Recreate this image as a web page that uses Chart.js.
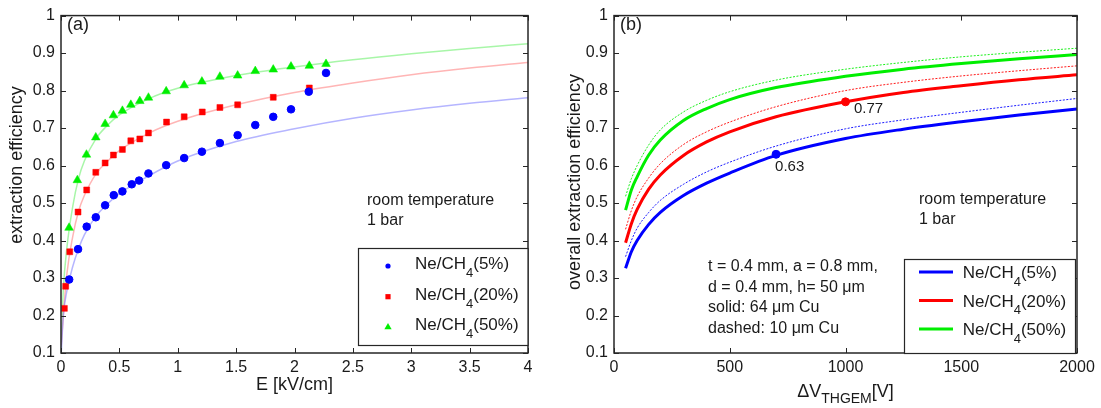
<!DOCTYPE html>
<html><head><meta charset="utf-8">
<script src="https://cdn.jsdelivr.net/npm/chart.js@4.4.0/dist/chart.umd.min.js"></script>
<style>
html,body{margin:0;padding:0;background:#fff;}
#wrap{position:relative;width:1101px;height:408px;overflow:hidden;background:#fff;}
canvas{position:absolute;top:0;}
</style></head><body>
<div id="wrap"><canvas id="ca" width="550" height="408" style="left:0"></canvas><canvas id="cb" width="551" height="408" style="left:550px"></canvas></div>
<script>
// ---------- data ----------
const yTicks = [0.1,0.2,0.3,0.4,0.5,0.6,0.7,0.8,0.9,1];
const xTicksA = [0,0.5,1,1.5,2,2.5,3,3.5,4];
const xTicksB = [0,500,1000,1500,2000];
const seriesNames = ['5%','20%','50%'];

// panel (a): measured points
const blueE   = [0.07,0.146,0.22,0.298,0.378,0.452,0.526,0.606,0.669,0.749,0.901,1.055,1.207,1.361,1.513,1.664,1.818,1.970,2.122,2.27];
const blueEff = [0.296,0.377,0.437,0.462,0.494,0.521,0.531,0.550,0.560,0.579,0.601,0.620,0.637,0.660,0.681,0.708,0.730,0.750,0.797,0.847];
const redE    = [0.029,0.04,0.075,0.146,0.22,0.298,0.378,0.449,0.526,0.598,0.675,0.749,0.904,1.055,1.21,1.361,1.513,1.818,2.127];
const redEff  = [0.219,0.278,0.370,0.476,0.535,0.582,0.607,0.628,0.643,0.666,0.671,0.687,0.716,0.730,0.743,0.755,0.762,0.782,0.807];
const greenE  = [0.069,0.14,0.218,0.298,0.378,0.449,0.526,0.598,0.675,0.749,0.901,1.055,1.207,1.361,1.513,1.664,1.818,1.970,2.127,2.27];
const greenEff= [0.434,0.561,0.629,0.675,0.711,0.734,0.746,0.762,0.772,0.781,0.798,0.814,0.824,0.837,0.840,0.852,0.856,0.864,0.866,0.871];

// panel (a): fit curves
const fitE     = [0.002,0.02,0.05,0.1,0.15,0.2,0.3,0.4,0.5,0.75,1,1.5,2,2.5,3,3.5,4];
const fitBlue  = [0.10,0.20,0.265,0.33,0.378,0.415,0.465,0.498,0.525,0.572,0.612,0.664,0.698,0.726,0.748,0.766,0.781];
const fitRed   = [0.12,0.20,0.31,0.41,0.478,0.52,0.578,0.612,0.64,0.686,0.718,0.762,0.795,0.82,0.842,0.86,0.875];
const fitGreen = [0.13,0.27,0.38,0.49,0.565,0.612,0.672,0.708,0.735,0.778,0.806,0.84,0.863,0.882,0.898,0.912,0.925];

// panel (b): curves vs THGEM voltage
const dV      = [50,75,100,150,200,300,400,500,700,1000,1250,1500,1750,2000];
const blue64  = [0.326,0.37,0.40,0.443,0.475,0.52,0.553,0.58,0.627,0.672,0.697,0.717,0.735,0.751];
const blue10  = [0.357,0.40,0.433,0.475,0.507,0.55,0.583,0.609,0.652,0.698,0.722,0.742,0.761,0.779];
const red64   = [0.394,0.445,0.483,0.537,0.575,0.627,0.663,0.69,0.73,0.77,0.795,0.813,0.829,0.842];
const red10   = [0.43,0.48,0.517,0.567,0.605,0.656,0.69,0.716,0.757,0.80,0.822,0.839,0.853,0.866];
const green64 = [0.481,0.535,0.57,0.628,0.668,0.72,0.752,0.776,0.808,0.838,0.857,0.872,0.885,0.896];
const green10 = [0.518,0.565,0.60,0.655,0.695,0.743,0.774,0.797,0.828,0.857,0.875,0.89,0.902,0.913];
const markV   = [700,1000];
const markEff = [0.63,0.77];
const markLbl = ['0.63','0.77'];

// ---------- style ----------
const FONT = "'Liberation Sans', Arial, Helvetica, sans-serif";
const AXC = '#262626', TXT = '#1a1a1a';
const BLUE = '#0000ff', RED = '#ff0000', GREEN = '#00ee00';
const colors = [BLUE, RED, GREEN];

const pts = (xs, ys) => xs.map((x, i) => ({x, y: ys[i]}));

function drawRich(ctx, x, y, parts, align) {
  let w = 0;
  for (const p of parts) { ctx.font = p[1] + 'px ' + FONT; w += ctx.measureText(p[0]).width; }
  let cx = align === 'center' ? x - w / 2 : x;
  ctx.textAlign = 'left'; ctx.textBaseline = 'alphabetic';
  for (const p of parts) {
    ctx.font = p[1] + 'px ' + FONT;
    ctx.fillText(p[0], cx, y + (p[2] || 0));
    cx += ctx.measureText(p[0]).width;
  }
}
function text(ctx, s, x, y, size, align) {
  ctx.font = size + 'px ' + FONT; ctx.textAlign = align || 'left'; ctx.textBaseline = 'middle';
  ctx.fillText(s, x, y);
}
function marker(ctx, style, x, y, r, color) {
  ctx.fillStyle = color; ctx.beginPath();
  if (style === 'circle') ctx.arc(x, y, r, 0, Math.PI * 2);
  else if (style === 'rect') ctx.rect(x - r, y - r, 2 * r, 2 * r);
  else { ctx.moveTo(x, y - r * 1.15); ctx.lineTo(x + r * 1.1, y + r * 0.75); ctx.lineTo(x - r * 1.1, y + r * 0.75); ctx.closePath(); }
  ctx.fill();
}
function legendLabel(i) { return [['Ne/CH', 17, 0], ['4', 13, 7.5], ['(' + seriesNames[i] + ')', 17, 0]]; }

function framePlugin(xTicks) {
  return {
    id: 'frame',
    afterDatasetsDraw(chart) {
      const {ctx, chartArea: a, scales: {x, y}} = chart;
      ctx.save();
      ctx.strokeStyle = AXC; ctx.lineWidth = 1;
      ctx.beginPath();
      for (const v of xTicks) {
        const p = Math.round(x.getPixelForValue(v)) + 0.5;
        ctx.moveTo(p, a.bottom); ctx.lineTo(p, a.bottom - 5);
        ctx.moveTo(p, a.top); ctx.lineTo(p, a.top + 5);
      }
      for (const v of yTicks) {
        const p = Math.round(y.getPixelForValue(v)) + 0.5;
        ctx.moveTo(a.left, p); ctx.lineTo(a.left + 5, p);
        ctx.moveTo(a.right, p); ctx.lineTo(a.right - 5, p);
      }
      ctx.stroke();
      ctx.lineWidth = 1.5;
      ctx.strokeRect(a.left, a.top, a.right - a.left, a.bottom - a.top);
      ctx.restore();
    }
  };
}

function scales(xTicks, xmin, xmax, yW) {
  const tickFont = {family: FONT, size: 16};
  return {
    x: {type: 'linear', min: xmin, max: xmax,
      afterBuildTicks: s => { s.ticks = xTicks.map(v => ({value: v})); },
      afterFit: s => { s.height = 55; },
      grid: {display: false, drawTicks: false}, border: {display: false},
      ticks: {padding: 5, color: TXT, font: tickFont, maxRotation: 0, autoSkip: false, callback: v => String(v)}},
    y: {type: 'linear', min: 0.1, max: 1,
      afterBuildTicks: s => { s.ticks = yTicks.map(v => ({value: v})); },
      afterFit: s => { s.width = yW; },
      grid: {display: false, drawTicks: false}, border: {display: false},
      ticks: {padding: 6, color: TXT, font: tickFont, autoSkip: false, callback: v => String(v)}}
  };
}

// ---------- panel (a) ----------
const decorA = {
  id: 'decorA',
  afterDraw(chart) {
    const {ctx, chartArea: a} = chart;
    ctx.save(); ctx.fillStyle = TXT;
    text(ctx, '(a)', a.left + 6, 25, 18);
    text(ctx, 'room temperature', 367, 201, 16);
    text(ctx, '1 bar', 367, 221, 16);
    // y title
    ctx.save(); ctx.translate(17, 165); ctx.rotate(-Math.PI / 2);
    text(ctx, 'extraction efficiency', 0, 0, 18, 'center'); ctx.restore();
    ctx.fillStyle = TXT;
    text(ctx, 'E [kV/cm]', (a.left + a.right) / 2, 385, 18, 'center');
    // legend
    const bx = 358, by = 248, bw = a.right - 358, bh = 97;
    ctx.fillStyle = '#fff'; ctx.fillRect(bx, by, bw, bh);
    ctx.strokeStyle = AXC; ctx.lineWidth = 1.2; ctx.strokeRect(bx + 0.5, by + 0.5, bw - 0.5, bh);
    const rows = [266, 296.7, 326.7], styles = ['circle', 'rect', 'tri'], rr = [2.6, 2.6, 3.3];
    rows.forEach((ry, i) => {
      marker(ctx, styles[i], 388, ry, rr[i], colors[i]);
      ctx.fillStyle = TXT; drawRich(ctx, 415, ry + 3.3, legendLabel(i));
    });
    ctx.restore();
  }
};

new Chart(document.getElementById('ca'), {
  type: 'scatter',
  data: {datasets: [
    {label: 'Ne/CH4(5%)', data: pts(blueE, blueEff), pointStyle: 'circle', pointRadius: 3.8, borderWidth: 1, borderColor: BLUE, backgroundColor: BLUE},
    {label: 'Ne/CH4(20%)', data: pts(redE, redEff), pointStyle: 'rect', pointRadius: 4.2, borderWidth: 0.5, borderColor: RED, backgroundColor: RED},
    {label: 'Ne/CH4(50%)', data: pts(greenE, greenEff), pointStyle: 'triangle', pointRadius: 5, borderWidth: 0.5, borderColor: GREEN, backgroundColor: GREEN},
    {label: 'fit 5%', data: pts(fitE, fitBlue), showLine: true, pointRadius: 0, borderColor: 'rgba(120,120,255,0.55)', borderWidth: 1.5, cubicInterpolationMode: 'monotone'},
    {label: 'fit 20%', data: pts(fitE, fitRed), showLine: true, pointRadius: 0, borderColor: 'rgba(255,120,120,0.55)', borderWidth: 1.5, cubicInterpolationMode: 'monotone'},
    {label: 'fit 50%', data: pts(fitE, fitGreen), showLine: true, pointRadius: 0, borderColor: 'rgba(110,240,110,0.6)', borderWidth: 1.5, cubicInterpolationMode: 'monotone'}
  ]},
  options: {
    responsive: false, animation: false,
    layout: {padding: {left: 0, top: 9, right: 22, bottom: 0}},
    plugins: {legend: {display: false}, tooltip: {enabled: false}},
    scales: scales(xTicksA, 0, 4, 61)
  },
  plugins: [framePlugin(xTicksA), decorA]
});

// ---------- panel (b) ----------
const decorB = {
  id: 'decorB',
  afterDraw(chart) {
    const {ctx, chartArea: a, scales: {x, y}} = chart;
    ctx.save(); ctx.fillStyle = TXT;
    text(ctx, '(b)', a.left + 6, 25, 18);
    text(ctx, 'room temperature', 369, 200, 16);
    text(ctx, '1 bar', 369, 220, 16);
    const info = ['t = 0.4 mm, a = 0.8 mm,', 'd = 0.4 mm, h= 50 \u03bcm', 'solid: 64 \u03bcm Cu', 'dashed: 10 \u03bcm Cu'];
    info.forEach((s, i) => text(ctx, s, 158, 267 + i * 20.4, 16));
    // marker labels
    text(ctx, markLbl[0], x.getPixelForValue(markV[0]) - 1, y.getPixelForValue(markEff[0]) + 13, 15);
    text(ctx, markLbl[1], x.getPixelForValue(markV[1]) + 8.5, y.getPixelForValue(markEff[1]) + 7, 15);
    // y title
    ctx.save(); ctx.translate(25, 182); ctx.rotate(-Math.PI / 2);
    text(ctx, 'overall extraction efficiency', 0, 0, 18, 'center'); ctx.restore();
    ctx.fillStyle = TXT;
    drawRich(ctx, (a.left + a.right) / 2, 397, [['\u0394V', 18, 0], ['THGEM', 14, 6], ['[V]', 18, 0]], 'center');
    // legend
    const bx = 354, by = 259, bw = 171, bh = a.bottom - 259;
    ctx.fillStyle = '#fff'; ctx.fillRect(bx, by, bw, bh);
    ctx.strokeStyle = AXC; ctx.lineWidth = 1.2; ctx.strokeRect(bx + 0.5, by + 0.5, bw, bh);
    const rows = [272, 300.5, 329];
    rows.forEach((ry, i) => {
      ctx.strokeStyle = colors[i]; ctx.lineWidth = 3;
      ctx.beginPath(); ctx.moveTo(369, ry); ctx.lineTo(403, ry); ctx.stroke();
      ctx.fillStyle = TXT; drawRich(ctx, 412.7, ry + 6.2, legendLabel(i));
    });
    ctx.restore();
  }
};

const solid = (d, c, l) => ({label: l, data: pts(dV, d), showLine: true, pointRadius: 0, borderColor: c, borderWidth: 3, cubicInterpolationMode: 'monotone'});
const dashed = (d, c, l) => ({label: l, data: pts(dV, d), showLine: true, pointRadius: 0, borderColor: c, borderWidth: 0.9, borderDash: [2, 1.5], cubicInterpolationMode: 'monotone'});

new Chart(document.getElementById('cb'), {
  type: 'scatter',
  data: {datasets: [
    {label: 'markers', data: pts(markV, markEff), pointRadius: 4, borderWidth: 1, pointBackgroundColor: [BLUE, RED], pointBorderColor: [BLUE, RED]},
    solid(blue64, BLUE, 'Ne/CH4(5%) 64um'),
    solid(red64, RED, 'Ne/CH4(20%) 64um'),
    solid(green64, GREEN, 'Ne/CH4(50%) 64um'),
    dashed(blue10, BLUE, 'Ne/CH4(5%) 10um'),
    dashed(red10, RED, 'Ne/CH4(20%) 10um'),
    dashed(green10, GREEN, 'Ne/CH4(50%) 10um')
  ]},
  options: {
    responsive: false, animation: false,
    layout: {padding: {left: 0, top: 9, right: 24, bottom: 0}},
    plugins: {legend: {display: false}, tooltip: {enabled: false}},
    scales: scales(xTicksB, 0, 2000, 64)
  },
  plugins: [framePlugin(xTicksB), decorB]
});
</script>
</body></html>
